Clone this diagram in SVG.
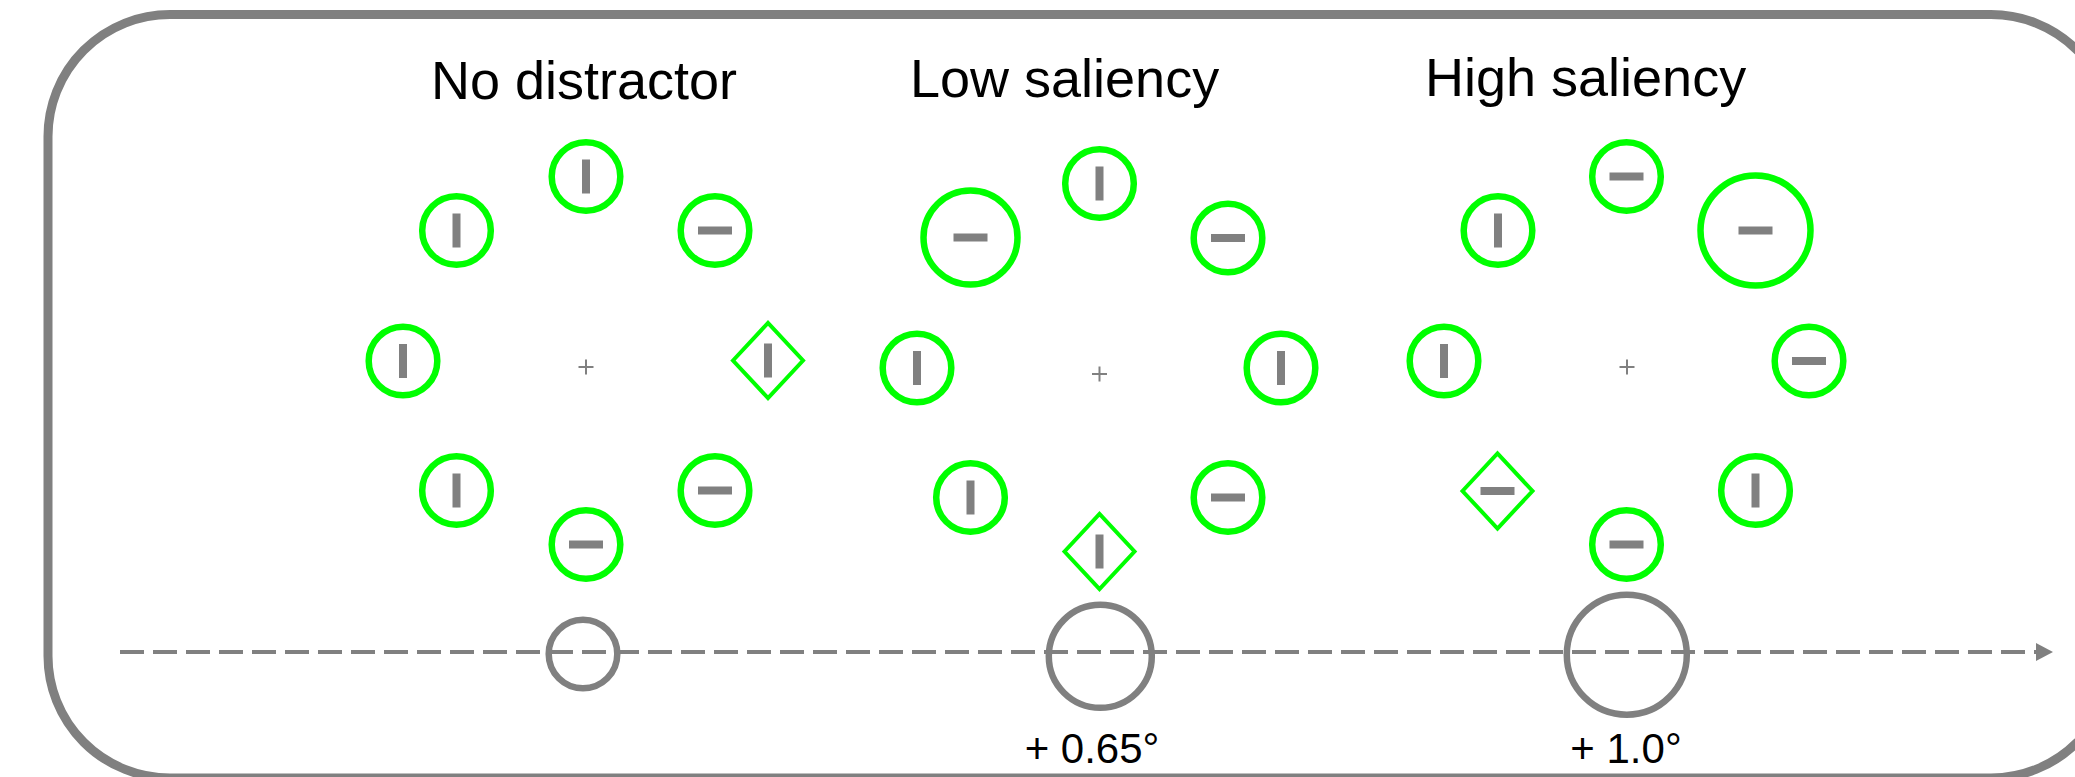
<svg xmlns="http://www.w3.org/2000/svg" width="2075" height="777" viewBox="0 0 2075 777">
  <style>
    .frame { fill: #ffffff; stroke: #808080; stroke-width: 9; }
    .item { fill: none; stroke: #00ff00; stroke-width: 6.5; }
    .diamond { fill: none; stroke: #00ff00; stroke-width: 4; stroke-linejoin: miter; }
    .bar { fill: #808080; }
    .fix { stroke: #808080; stroke-width: 2; }
    .ring { fill: none; stroke: #808080; stroke-width: 6.5; }
    .axis { stroke: #808080; stroke-width: 4; stroke-dasharray: 24 9; fill: none; }
    .title { font-family: "Liberation Sans", Arial, sans-serif; font-size: 54px; fill: #000000; }
    .label { font-family: "Liberation Sans", Arial, sans-serif; font-size: 42px; fill: #000000; }
  </style>
  <defs>
    <rect id="vbar" class="bar" x="-4" y="-17" width="8" height="34"/>
    <rect id="hbar" class="bar" x="-17" y="-4" width="34" height="8"/>
    <circle id="disc" class="item" r="34.3"/>
    <polygon id="dia" class="diamond" points="-35,0 0,-37.5 35,0 0,37.5"/>
    <g id="fixcross">
      <line class="fix" x1="-7.5" y1="0" x2="7.5" y2="0"/>
      <line class="fix" x1="0" y1="-7.5" x2="0" y2="7.5"/>
    </g>
  </defs>

  <rect id="frame" class="frame" x="48" y="14.5" width="2065" height="763.5" rx="122" ry="122"/>

  <!-- panel: no distractor -->
  <g id="panel-none">
    <text class="title" x="431" y="99">No distractor</text>
    <use href="#fixcross" x="586" y="367"/>
    <g id="n1-top"><use href="#disc" x="586" y="176.5"/><use href="#vbar" x="586" y="176.5"/></g>
    <g id="n1-ul"><use href="#disc" x="456.5" y="230.5"/><use href="#vbar" x="456.5" y="230.5"/></g>
    <g id="n1-ur"><use href="#disc" x="715" y="230.5"/><use href="#hbar" x="715" y="230.5"/></g>
    <g id="n1-l"><use href="#disc" x="403" y="361"/><use href="#vbar" x="403" y="361"/></g>
    <g id="n1-r"><use href="#dia" x="768" y="360.5"/><use href="#vbar" x="768" y="360.5"/></g>
    <g id="n1-ll"><use href="#disc" x="456.5" y="490.5"/><use href="#vbar" x="456.5" y="490.5"/></g>
    <g id="n1-lr"><use href="#disc" x="715" y="490.5"/><use href="#hbar" x="715" y="490.5"/></g>
    <g id="n1-bot"><use href="#disc" x="586" y="544.5"/><use href="#hbar" x="586" y="544.5"/></g>
  </g>

  <!-- panel: low saliency -->
  <g id="panel-low">
    <text class="title" x="910" y="97">Low saliency</text>
    <use href="#fixcross" x="1099.5" y="374"/>
    <g id="n2-top"><use href="#disc" x="1099.5" y="183.5"/><use href="#vbar" x="1099.5" y="183.5"/></g>
    <g id="n2-ul"><circle class="item" cx="970.5" cy="237.5" r="47"/><use href="#hbar" x="970.5" y="237.5"/></g>
    <g id="n2-ur"><use href="#disc" x="1228" y="238"/><use href="#hbar" x="1228" y="238"/></g>
    <g id="n2-l"><use href="#disc" x="917" y="368"/><use href="#vbar" x="917" y="368"/></g>
    <g id="n2-r"><use href="#disc" x="1281" y="368"/><use href="#vbar" x="1281" y="368"/></g>
    <g id="n2-ll"><use href="#disc" x="970.5" y="497.5"/><use href="#vbar" x="970.5" y="497.5"/></g>
    <g id="n2-lr"><use href="#disc" x="1228" y="497.5"/><use href="#hbar" x="1228" y="497.5"/></g>
    <g id="n2-bot"><use href="#dia" x="1099.5" y="551.5"/><use href="#vbar" x="1099.5" y="551.5"/></g>
  </g>

  <!-- panel: high saliency -->
  <g id="panel-high">
    <text class="title" x="1425" y="96">High saliency</text>
    <use href="#fixcross" x="1627" y="367"/>
    <g id="n3-top"><use href="#disc" x="1626.5" y="176.5"/><use href="#hbar" x="1626.5" y="176.5"/></g>
    <g id="n3-ul"><use href="#disc" x="1498" y="230.5"/><use href="#vbar" x="1498" y="230.5"/></g>
    <g id="n3-ur"><circle class="item" cx="1755.5" cy="230.5" r="55"/><use href="#hbar" x="1755.5" y="230.5"/></g>
    <g id="n3-l"><use href="#disc" x="1444" y="361"/><use href="#vbar" x="1444" y="361"/></g>
    <g id="n3-r"><use href="#disc" x="1809" y="361"/><use href="#hbar" x="1809" y="361"/></g>
    <g id="n3-ll"><use href="#dia" x="1497.5" y="491"/><use href="#hbar" x="1497.5" y="491"/></g>
    <g id="n3-lr"><use href="#disc" x="1755.5" y="490.5"/><use href="#vbar" x="1755.5" y="490.5"/></g>
    <g id="n3-bot"><use href="#disc" x="1626.5" y="544.5"/><use href="#hbar" x="1626.5" y="544.5"/></g>
  </g>

  <!-- size scale along the saliency axis -->
  <g id="rings">
    <circle id="ring-none" class="ring" cx="583" cy="654" r="34.3"/>
    <circle id="ring-low" class="ring" cx="1100.3" cy="656.3" r="51.5"/>
    <circle id="ring-high" class="ring" cx="1626.8" cy="654.7" r="60"/>
  </g>

  <g id="connectors">
    <line class="axis" x1="120" y1="652" x2="2036" y2="652"/>
    <polygon fill="#808080" points="2036,643 2053,652 2036,661"/>
  </g>

  <g id="labels">
    <text class="label" x="1092" y="763" text-anchor="middle">+ 0.65°</text>
    <text class="label" x="1626" y="763" text-anchor="middle">+ 1.0°</text>
  </g>
</svg>
